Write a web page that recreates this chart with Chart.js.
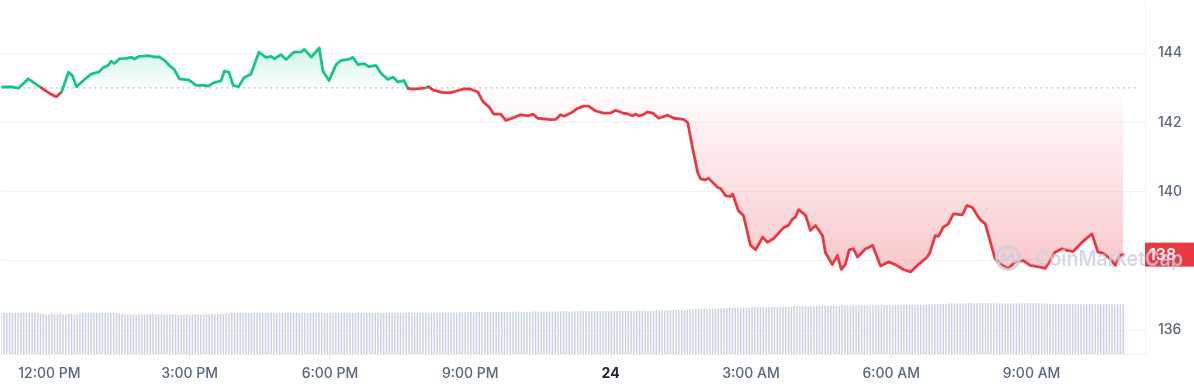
<!DOCTYPE html>
<html>
<head>
<meta charset="utf-8">
<script src="https://cdn.jsdelivr.net/npm/chart.js@4.4.1/dist/chart.umd.min.js"></script>
<style>
  html, body { margin: 0; padding: 0; background: #fff; }
  #wrap { width: 1194px; height: 390px; position: relative; }
</style>
</head>
<body>
<div id="wrap"><canvas id="priceChart"></canvas></div>
<script>
// hours relative to 12:00 PM
const hours = [
  -1.03,-0.81,-0.66,-0.45,-0.17,0.04,0.15,0.26,0.41,0.49,
  0.58,0.75,0.90,1.05,1.15,1.26,1.32,1.39,1.50,1.64,
  1.75,1.82,1.92,2.11,2.24,2.35,2.46,2.56,2.67,2.78,
  2.99,3.14,3.31,3.40,3.52,3.67,3.74,3.84,3.93,4.04,
  4.10,4.16,4.31,4.48,4.63,4.74,4.81,4.95,5.06,5.23,
  5.38,5.45,5.60,5.77,5.85,5.98,6.13,6.24,6.39,6.49,
  6.60,6.73,6.83,6.98,7.09,7.24,7.35,7.45,7.58,7.67,
  7.79,8.05,8.11,8.20,8.41,8.58,8.69,8.86,9.01,9.16,
  9.27,9.40,9.50,9.65,9.76,9.93,10.08,10.25,10.34,10.44,
  10.72,10.83,10.93,11.00,11.15,11.30,11.42,11.53,11.68,11.85,
  12.00,12.11,12.26,12.36,12.47,12.54,12.60,12.68,12.79,12.90,
  13.03,13.22,13.35,13.56,13.65,13.75,13.86,13.92,14.03,14.09,
  14.29,14.35,14.46,14.56,14.61,14.73,14.84,14.99,15.10,15.25,
  15.35,15.48,15.70,15.80,15.89,15.95,16.02,16.17,16.27,16.38,
  16.53,16.59,16.74,16.85,16.93,17.02,17.10,17.19,17.28,17.45,
  17.51,17.60,17.77,17.94,18.09,18.26,18.41,18.56,18.77,18.83,
  18.94,19.01,19.11,19.22,19.33,19.52,19.62,19.73,19.90,20.01,
  20.12,20.22,20.37,20.50,20.65,20.82,20.97,21.18,21.29,21.40,
  21.50,21.65,21.76,21.89,22.08,22.29,22.42,22.53,22.68,22.79,
  22.89,22.96
];

const prices = [
  143.02,143.03,142.99,143.26,143.00,142.81,142.74,142.88,143.45,143.36,
  143.03,143.24,143.40,143.45,143.58,143.65,143.77,143.70,143.84,143.85,
  143.88,143.83,143.91,143.93,143.89,143.89,143.80,143.65,143.53,143.26,
  143.22,143.07,143.07,143.05,143.15,143.20,143.48,143.45,143.07,143.03,
  143.15,143.29,143.40,144.03,143.88,143.91,143.84,143.96,143.82,144.03,
  144.04,144.11,143.89,144.15,143.48,143.21,143.67,143.79,143.82,143.88,
  143.67,143.70,143.61,143.65,143.42,143.24,143.31,143.17,143.21,142.98,
  142.96,143.00,143.03,142.94,142.86,142.86,142.90,142.97,142.96,142.88,
  142.60,142.45,142.24,142.24,142.06,142.14,142.22,142.19,142.24,142.12,
  142.08,142.09,142.22,142.18,142.27,142.41,142.47,142.47,142.33,142.27,
  142.27,142.35,142.27,142.25,142.19,142.24,142.19,142.21,142.30,142.27,
  142.12,142.21,142.12,142.09,141.99,141.27,140.56,140.37,140.34,140.39,
  140.12,140.09,139.88,139.86,139.93,139.45,139.31,138.45,138.32,138.68,
  138.54,138.64,138.96,139.02,139.21,139.26,139.48,139.31,138.88,139.02,
  138.73,138.25,137.89,138.16,137.75,137.90,138.32,138.35,138.11,138.35,
  138.38,138.45,137.85,137.97,137.89,137.75,137.68,137.87,138.11,138.25,
  138.73,138.71,138.97,139.07,139.36,139.33,139.60,139.55,139.19,139.07,
  138.54,138.06,137.87,137.78,137.97,138.01,137.87,137.82,137.78,138.01,
  138.25,138.35,138.30,138.27,138.54,138.78,138.25,138.22,138.06,137.87,
  138.16,138.18
];

// volume per bar (M), one bar every ~3.6 minutes
const volumes = [
  116,116,117,116,116,117,116,116,117,116,116,116,117,116,115,114,113,113,114,113,
  113,114,113,113,114,114,113,114,115,116,116,116,117,116,116,117,116,116,116,117,
  116,116,115,114,113,113,112,113,112,113,113,112,113,114,113,113,113,112,113,113,
  113,114,113,112,112,113,113,112,112,113,113,112,113,112,113,114,113,113,113,113,
  114,115,116,116,116,117,116,116,117,116,116,116,117,116,116,116,117,116,116,116,
  116,116,117,116,117,117,116,117,117,116,117,116,117,117,116,117,117,116,117,117,
  116,117,117,116,116,117,116,117,117,116,116,117,117,116,117,116,116,117,117,116,
  117,117,116,117,117,118,117,117,118,117,117,118,117,117,118,118,117,118,118,118,
  118,118,118,119,118,118,119,119,118,119,119,119,119,120,119,119,120,119,120,120,
  120,119,120,120,120,120,119,120,120,120,121,120,120,120,121,120,120,121,120,121,
  121,121,120,121,121,121,121,122,121,121,122,121,122,122,121,122,122,122,122,123,
  122,122,123,123,122,123,123,123,123,124,123,123,124,124,124,124,124,125,124,125,
  125,125,126,125,126,126,127,127,127,128,128,128,129,129,129,130,130,130,130,131,
  131,131,131,132,132,132,132,133,133,133,133,133,134,134,134,134,134,135,135,135,
  135,135,136,136,136,136,137,136,136,137,137,136,137,137,137,137,137,137,137,138,
  137,137,137,138,137,138,137,138,138,137,138,138,138,138,139,138,138,139,139,139,
  139,139,139,139,140,139,140,140,140,140,141,141,141,141,142,142,142,143,143,143,
  144,144,144,144,145,144,144,144,145,144,144,144,144,145,144,144,144,144,144,144,
  144,144,144,145,144,144,144,144,144,144,144,143,143,143,142,142,142,142,142,142,
  141,141,142,141,141,141,141,142,141,141,141,141,141,142,141,141,141,141,141,142
];

const tickHours = [0, 3, 6, 9, 12, 15, 18, 21];
const tickLabels = ['12:00 PM', '3:00 PM', '6:00 PM', '9:00 PM', '24', '3:00 AM', '6:00 AM', '9:00 AM'];
const priceTicks = [136, 138, 140, 142, 144];
const openPrice = 143.0;

const volStart = hours[0];
const volStep = (hours[hours.length - 1] - hours[0]) / (volumes.length - 1);

const GREEN = '#16c784';
const RED = '#ea3943';
const FONT = 'Inter, "Noto Sans", sans-serif';

const pricePoints = hours.map((h, i) => ({ x: h, y: prices[i] }));
const volPoints = volumes.map((v, i) => ({ x: volStart + i * volStep, y: v }));

// label de prix courant sur l'axe
const lastPriceTag = {
    id: 'lastPriceTag',
    afterDraw(chart) {
        const { ctx, chartArea, scales } = chart;
        const last = prices[prices.length - 1];
        const y = scales.y.getPixelForValue(last);
        ctx.save();
        ctx.fillStyle = RED;
        ctx.fillRect(chartArea.right, y - 12, chart.width - chartArea.right, 24);
        ctx.fillStyle = '#fff';
        ctx.font = '600 16px ' + FONT;
        ctx.textBaseline = 'middle';
        ctx.fillText(Math.floor(last).toString(), chartArea.right + 4, y + 1);
        ctx.restore();
    }
};

// filigrane
const watermark = {
    id: 'watermark',
    afterDraw(chart) {
        const { ctx } = chart;
        ctx.save();
        ctx.globalAlpha = 0.8;
        ctx.strokeStyle = '#c9d1df';
        ctx.fillStyle = '#c9d1df';
        ctx.lineWidth = 3;
        ctx.beginPath();
        ctx.arc(1008, 258, 11.5, 0, Math.PI * 2);
        ctx.stroke();
        ctx.lineWidth = 2.5;
        ctx.lineJoin = 'round';
        ctx.beginPath();
        ctx.moveTo(999, 265);
        ctx.lineTo(1003, 253);
        ctx.lineTo(1007, 262);
        ctx.lineTo(1011, 253);
        ctx.lineTo(1014, 262);
        ctx.lineTo(1019, 260);
        ctx.stroke();
        ctx.font = '600 22px ' + FONT;
        ctx.textBaseline = 'alphabetic';
        const text = 'CoinMarketCap';
        const w = ctx.measureText(text).width;
        ctx.translate(1035, 266);
        ctx.scale(148 / w, 1);
        ctx.fillText(text, 0, 0);
        ctx.restore();
    }
};

const chart = new Chart(document.getElementById('priceChart'), {
    data: {
        datasets: [
            {
                type: 'line',
                label: 'Prix',
                data: pricePoints,
                yAxisID: 'y',
                order: 0,
                borderWidth: 2.8,
                borderJoinStyle: 'round',
                borderCapStyle: 'round',
                pointRadius: 0,
                tension: 0,
                borderColor: GREEN,
                segment: {
                    borderColor: c => ((c.p0.parsed.y + c.p1.parsed.y) / 2 >= openPrice ? GREEN : RED)
                },
                fill: { target: { value: openPrice }, above: 'rgba(22,199,132,0.12)', below: 'rgba(234,57,67,0.15)' }
            },
            {
                type: 'line',
                label: 'Ouverture',
                data: [{ x: hours[0], y: openPrice }, { x: 23.3, y: openPrice }],
                yAxisID: 'y',
                order: 1,
                borderColor: '#a7b1c2',
                borderWidth: 1.3,
                borderDash: [1.5, 4],
                pointRadius: 0,
                fill: false
            },
            {
                type: 'bar',
                label: 'Volume',
                data: volPoints,
                yAxisID: 'yv',
                order: 2,
                backgroundColor: '#cbd3e2',
                barPercentage: 0.55,
                categoryPercentage: 1
            }
        ]
    },
    options: {
        responsive: true,
        maintainAspectRatio: false,
        animation: false,
        layout: { padding: 0 },
        plugins: {
            legend: { display: false },
            tooltip: { enabled: false }
        },
        scales: {
            x: {
                type: 'linear',
                offset: false,
                min: -1.025,
                max: 23.425,
                afterBuildTicks(scale) {
                    scale.ticks = tickHours.map(v => ({ value: v }));
                },
                afterFit(scale) {
                    scale.height = 36;
                    scale.paddingLeft = 0;
                    scale.paddingRight = 0;
                },
                grid: { drawOnChartArea: false, tickLength: 5, color: '#e3e7ee', offset: false },
                border: { color: '#eff2f5' },
                ticks: {
                    autoSkip: false,
                    maxRotation: 0,
                    padding: 6,
                    color: c => (c.tick && c.tick.value === 12 ? '#222531' : '#58667e'),
                    font: c => ({ family: FONT, size: 14, weight: c.tick && c.tick.value === 12 ? '700' : '500' }),
                    callback: v => tickLabels[tickHours.indexOf(v)]
                }
            },
            y: {
                position: 'right',
                min: 135.309,
                max: 145.496,
                afterBuildTicks(scale) {
                    scale.ticks = priceTicks.map(v => ({ value: v }));
                },
                afterFit(scale) {
                    scale.width = 49;
                    scale.paddingTop = 0;
                    scale.paddingBottom = 0;
                },
                grid: { color: '#f1f3f6', drawTicks: false },
                border: { color: '#eff2f5' },
                ticks: {
                    padding: 13,
                    color: '#58667e',
                    font: { family: FONT, size: 14, weight: '500' }
                }
            },
            yv: {
                display: false,
                min: 0,
                max: 1000
            }
        }
    },
    plugins: [lastPriceTag, watermark]
});

// dégradés sous la courbe
const ys = chart.scales.y;
const ctx = chart.ctx;
const yOpen = ys.getPixelForValue(openPrice);
const gUp = ctx.createLinearGradient(0, ys.getPixelForValue(Math.max(...prices)), 0, yOpen);
gUp.addColorStop(0, 'rgba(22,199,132,0.20)');
gUp.addColorStop(1, 'rgba(22,199,132,0.02)');
const gDown = ctx.createLinearGradient(0, yOpen, 0, ys.getPixelForValue(Math.min(...prices)));
gDown.addColorStop(0, 'rgba(234,57,67,0.01)');
gDown.addColorStop(1, 'rgba(234,57,67,0.28)');
chart.data.datasets[0].fill = { target: { value: openPrice }, above: gUp, below: gDown };
chart.update('none');
</script>
</body>
</html>
